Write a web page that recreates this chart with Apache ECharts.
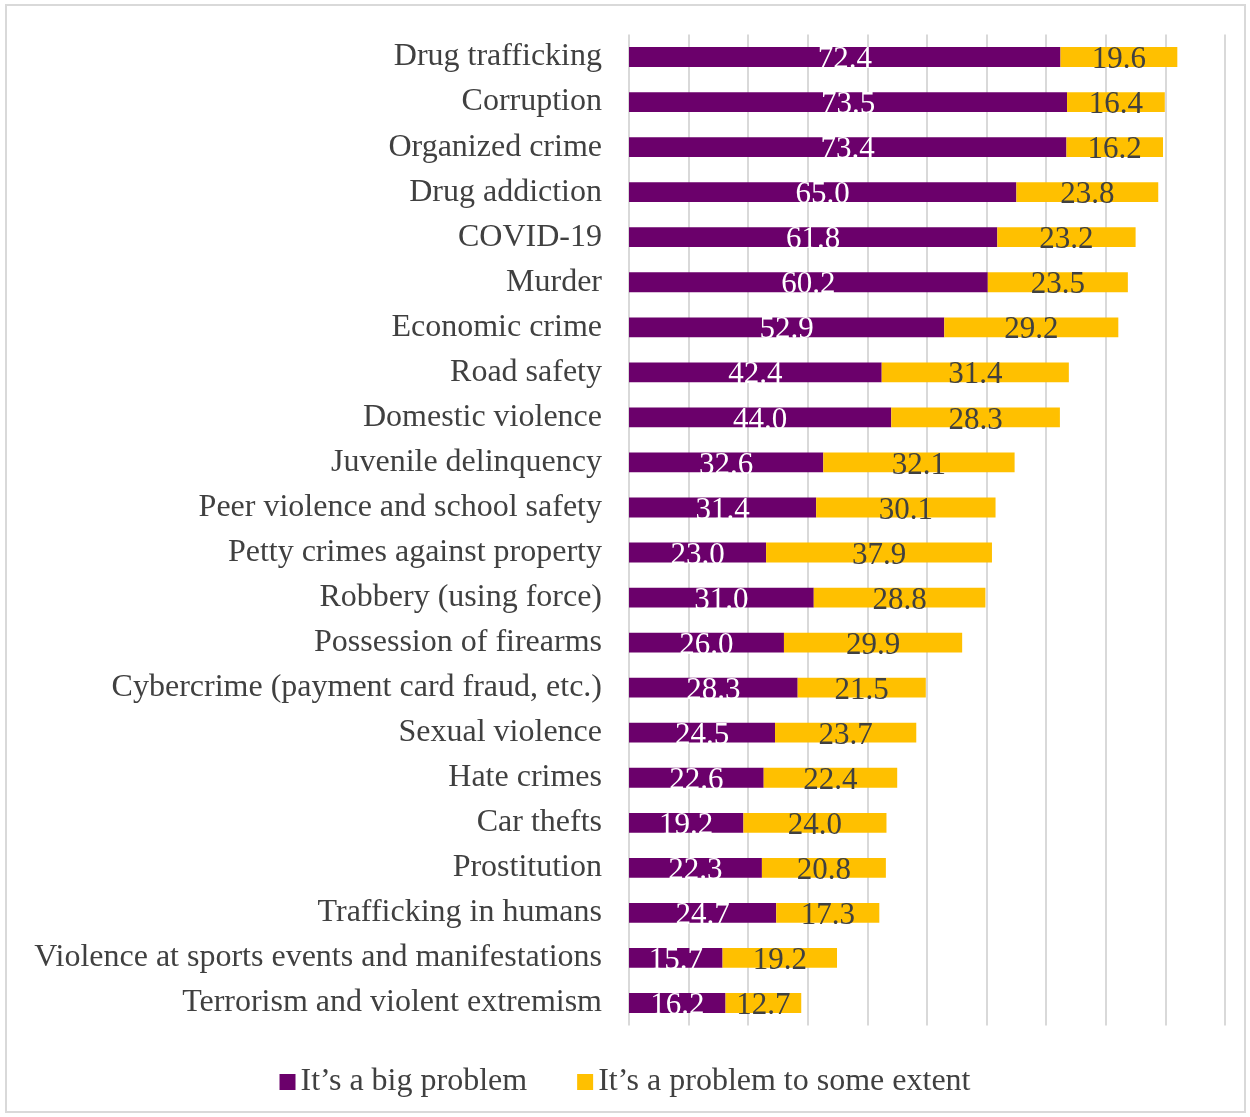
<!DOCTYPE html>
<html>
<head>
<meta charset="utf-8">
<script src="https://cdn.jsdelivr.net/npm/echarts@6/dist/echarts.min.js"></script>
<style>
  html, body { margin: 0; padding: 0; background: #fff; }
  #chart { width: 1250px; height: 1117px; }
</style>
</head>
<body>
<div id="chart"></div>
<script>
// Perceived problems, share of respondents (%)
const categories = [
  "Drug trafficking",
  "Corruption",
  "Organized crime",
  "Drug addiction",
  "COVID-19",
  "Murder",
  "Economic crime",
  "Road safety",
  "Domestic violence",
  "Juvenile delinquency",
  "Peer violence and school safety",
  "Petty crimes against property",
  "Robbery (using force)",
  "Possession of firearms",
  "Cybercrime (payment card fraud, etc.)",
  "Sexual violence",
  "Hate crimes",
  "Car thefts",
  "Prostitution",
  "Trafficking in humans",
  "Violence at sports events and manifestations",
  "Terrorism and violent extremism"
];
const bigProblem = [72.4, 73.5, 73.4, 65.0, 61.8, 60.2, 52.9, 42.4, 44.0, 32.6, 31.4, 23.0, 31.0, 26.0, 28.3, 24.5, 22.6, 19.2, 22.3, 24.7, 15.7, 16.2];
const someExtent = [19.6, 16.4, 16.2, 23.8, 23.2, 23.5, 29.2, 31.4, 28.3, 32.1, 30.1, 37.9, 28.8, 29.9, 21.5, 23.7, 22.4, 24.0, 20.8, 17.3, 19.2, 12.7];
const seriesNames = ["It\u2019s a big problem", "It\u2019s a problem to some extent"];

const FONT = "'Liberation Serif', 'DejaVu Serif', serif";
const TEXT = "#404040";
const SIZE = 32;

const chart = echarts.init(document.getElementById("chart"), null, { renderer: "canvas" });

chart.setOption({
  backgroundColor: "#ffffff",
  animation: false,
  textStyle: { fontFamily: FONT },
  graphic: [{
    type: "rect",
    shape: { x: 6, y: 5, width: 1239, height: 1107 },
    style: { fill: null, stroke: "#d9d9d9", lineWidth: 2 },
    silent: true,
    z: -1
  }],
  grid: { left: 629, right: 25, top: 34.5, bottom: 91.5, containLabel: false },
  legend: {
    bottom: 14,
    left: "center",
    itemWidth: 16,
    itemHeight: 16,
    itemGap: 50,
    icon: "rect",
    textStyle: { fontFamily: FONT, fontSize: SIZE, color: TEXT },
    data: seriesNames
  },
  xAxis: {
    type: "value",
    min: 0,
    max: 100,
    interval: 10,
    axisLabel: { show: false },
    axisLine: { show: false },
    axisTick: { show: false },
    splitLine: { show: true, lineStyle: { color: "#d9d9d9", width: 2 } }
  },
  yAxis: {
    type: "category",
    data: categories,
    inverse: true,
    axisLine: { show: false },
    axisTick: { show: false },
    axisLabel: {
      margin: 27,
      fontFamily: FONT,
      fontSize: SIZE,
      color: TEXT
    }
  },
  series: [
    {
      name: seriesNames[0],
      type: "bar",
      stack: "total",
      data: bigProblem,
      barWidth: "44%",
      itemStyle: { color: "#6b006b" },
      label: {
        show: true,
        position: "inside",
        offset: [0, 3],
        fontFamily: FONT,
        fontSize: 31,
        color: "#ffffff",
        formatter: p => p.value.toFixed(1)
      }
    },
    {
      name: seriesNames[1],
      type: "bar",
      stack: "total",
      data: someExtent,
      barWidth: "44%",
      itemStyle: { color: "#ffc000" },
      label: {
        show: true,
        position: "inside",
        offset: [0, 3],
        fontFamily: FONT,
        fontSize: 31,
        color: TEXT,
        formatter: p => p.value.toFixed(1)
      }
    }
  ]
});
</script>
</body>
</html>
